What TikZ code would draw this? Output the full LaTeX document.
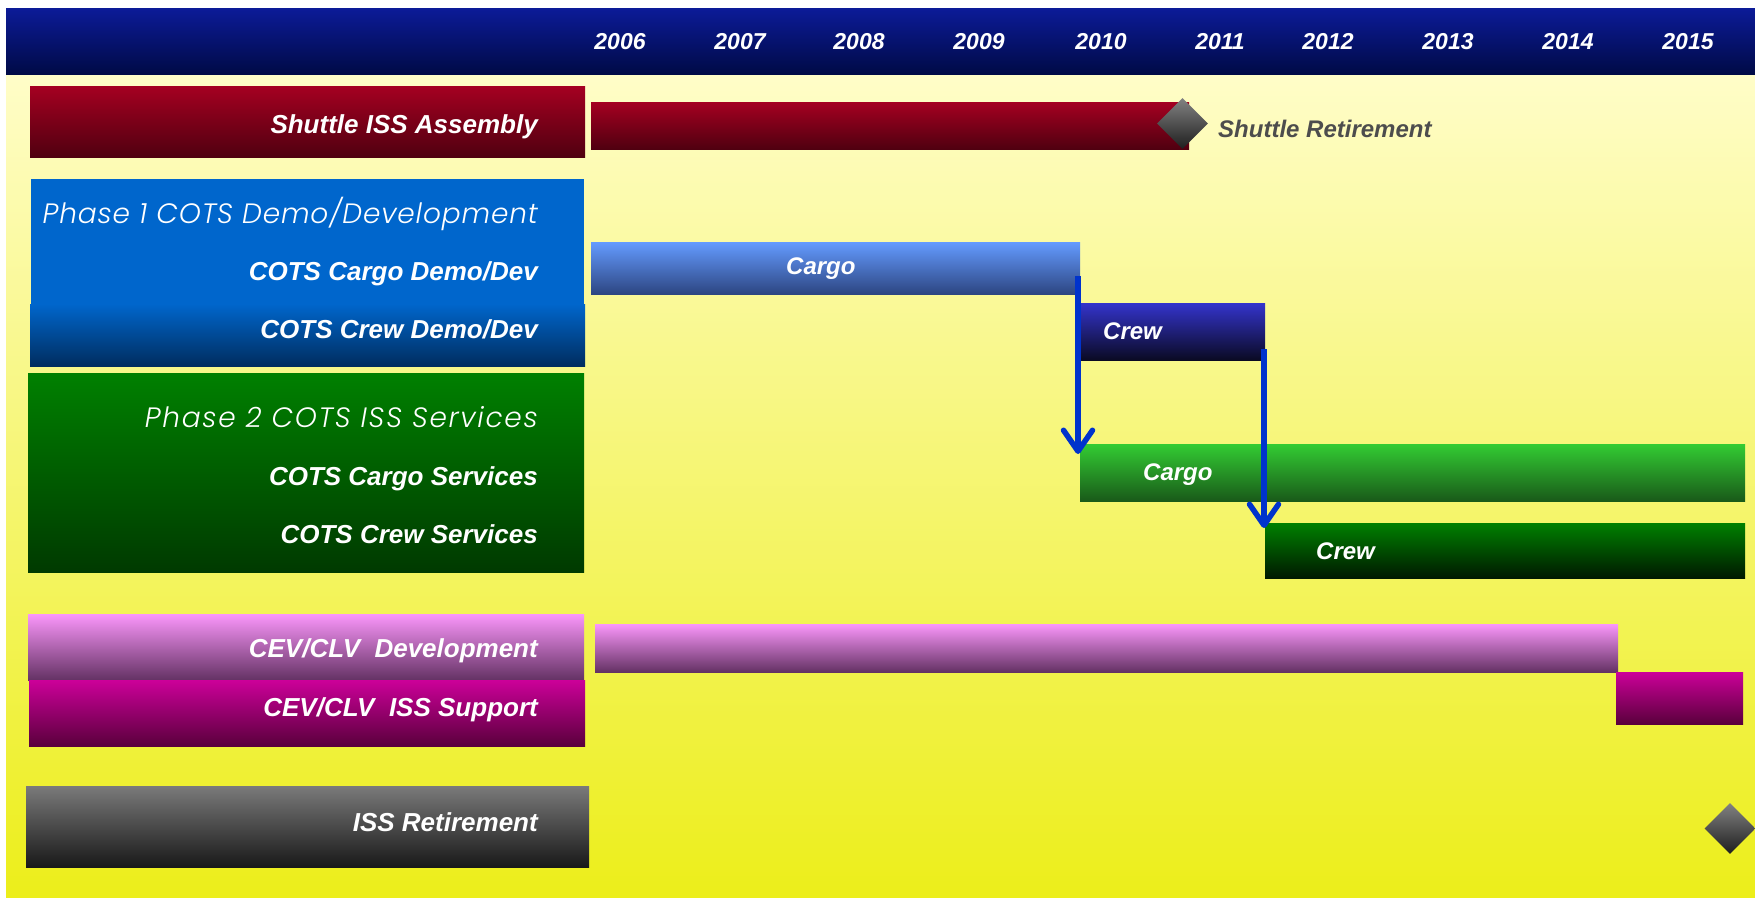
\documentclass[tikz,border=0pt]{standalone}
\usepackage{fontspec}
\setmainfont{Liberation Sans}
\usetikzlibrary{shapes.geometric,arrows.meta}
\IfFontExistsTF{Poppins Light Italic}{\newfontfamily\phasefont{Poppins Light Italic}[LetterSpace=3]\newfontfamily\phasewidefont{Poppins Light Italic}[LetterSpace=6]}{\newfontfamily\phasefont{Liberation Sans Italic}\newfontfamily\phasewidefont{Liberation Sans Italic}}
\definecolor{hdrTop}{RGB}{12,27,152}
\definecolor{hdrBot}{RGB}{0,10,70}
\definecolor{bgTop}{RGB}{255,253,200}
\definecolor{bgBot}{RGB}{236,238,26}
\definecolor{redTop}{RGB}{165,0,33}
\definecolor{redBot}{RGB}{80,0,16}
\definecolor{blueTop}{RGB}{0,102,204}
\definecolor{blueBot}{RGB}{0,45,95}
\definecolor{grnTop}{RGB}{0,128,0}
\definecolor{grnMid}{RGB}{0,105,0}
\definecolor{grnBot}{RGB}{0,58,0}
\definecolor{pinkTop}{RGB}{250,150,250}
\definecolor{pinkBot}{RGB}{100,50,100}
\definecolor{magTop}{RGB}{204,0,153}
\definecolor{magBot}{RGB}{90,0,60}
\definecolor{grayTop}{RGB}{122,122,122}
\definecolor{grayBot}{RGB}{25,25,25}
\definecolor{cbTop}{RGB}{100,155,255}
\definecolor{cbBot}{RGB}{45,70,130}
\definecolor{crTop}{RGB}{52,52,204}
\definecolor{crBot}{RGB}{10,10,35}
\definecolor{lgTop}{RGB}{51,204,51}
\definecolor{lgBot}{RGB}{25,90,25}
\definecolor{dgTop}{RGB}{0,128,0}
\definecolor{dgBot}{RGB}{0,25,0}
\definecolor{arrowBlue}{RGB}{0,51,204}
\definecolor{dmTop}{RGB}{130,130,130}
\definecolor{dmBot}{RGB}{30,30,30}
\definecolor{retText}{RGB}{77,77,77}
\begin{document}
\begin{tikzpicture}[x=1pt,y=-1pt,
  box/.style={rectangle,draw=none,inner sep=0pt,outer sep=0pt,anchor=north west},
  lbl/.style={text=white,inner sep=0pt,anchor=base east,font=\fontsize{26}{30}\selectfont\bfseries\itshape},
  phase/.style={text=white,inner sep=0pt,anchor=base east,font=\fontsize{28}{32}\selectfont\phasefont},
  phasewide/.style={phase,font=\fontsize{28}{32}\selectfont\phasewidefont},
  year/.style={text=white,inner sep=0pt,anchor=center,font=\fontsize{23}{27}\selectfont\bfseries\itshape},
  barlbl/.style={text=white,inner sep=0pt,anchor=base west,font=\fontsize{24}{28}\selectfont\bfseries\itshape},
  milestone/.style={diamond,draw=none,inner sep=0pt,minimum width=51pt,minimum height=51pt,top color=dmTop,bottom color=dmBot},
  flow/.style={draw=arrowBlue,line width=5.5pt,-{Straight Barb[length=21pt,width=29pt,round]}}]
\useasboundingbox (0,0) rectangle (1755,897);
\fill[white] (0,0) rectangle (1755,897);
% background and header
\node[box,top color=bgTop,bottom color=bgBot,minimum width=1749pt,minimum height=823pt] (bg) at (6,74) {};
\node[box,top color=hdrTop,bottom color=hdrBot,minimum width=1749pt,minimum height=66pt] (hdr) at (6,8) {};
% years
\node[year] (y2006) at (620,41.5) {2006};
\node[year] (y2007) at (740,41.5) {2007};
\node[year] (y2008) at (859,41.5) {2008};
\node[year] (y2009) at (979,41.5) {2009};
\node[year] (y2010) at (1101,41.5) {2010};
\node[year] (y2011) at (1220,41.5) {2011};
\node[year] (y2012) at (1328,41.5) {2012};
\node[year] (y2013) at (1448,41.5) {2013};
\node[year] (y2014) at (1568,41.5) {2014};
\node[year] (y2015) at (1688,41.5) {2015};
% left label boxes
\node[box,top color=redTop,bottom color=redBot,minimum width=555pt,minimum height=71pt] (bshuttle) at (30,86) {};
\node[box,fill=blueTop,minimum width=553pt,minimum height=126pt] (bphase1a) at (31,179) {};
\node[box,top color=blueTop,middle color=blueTop,bottom color=blueBot,minimum width=555pt,minimum height=62pt] (bphase1b) at (30,304) {};
\node[box,top color=grnTop,middle color=grnMid,bottom color=grnBot,minimum width=556pt,minimum height=199pt] (bphase2) at (28,373) {};
\node[box,top color=pinkTop,bottom color=pinkBot,minimum width=556pt,minimum height=66pt] (bcevdev) at (28,614) {};
\node[box,top color=magTop,bottom color=magBot,minimum width=556pt,minimum height=66pt] (bcevsup) at (29,680) {};
\node[box,top color=grayTop,bottom color=grayBot,minimum width=563pt,minimum height=81pt] (biss) at (26,786) {};
% left labels
\node[lbl] (tshuttle) at (538,133) {Shuttle ISS Assembly};
\node[phase] (tphase1) at (538,223) {Phase 1 COTS Demo/Development};
\node[lbl] (tcargodev) at (538,280) {COTS Cargo Demo/Dev};
\node[lbl] (tcrewdev) at (538,338) {COTS Crew Demo/Dev};
\node[phasewide] (tphase2) at (538,427.5) {Phase 2 COTS ISS Services};
\node[lbl] (tcargosvc) at (538,485) {COTS Cargo Services};
\node[lbl] (tcrewsvc) at (538,543) {COTS Crew Services};
\node[lbl] (tcevdev) at (538,657) {CEV/CLV\ \ Development};
\node[lbl] (tcevsup) at (538,716) {CEV/CLV\ \ ISS Support};
\node[lbl] (tiss) at (538,831) {ISS Retirement};
% timeline bars
\node[box,top color=redTop,bottom color=redBot,minimum width=598pt,minimum height=47pt] (rshuttle) at (591,102) {};
\node[milestone] (mshuttle) at (1182.5,123.5) {};
\node[barlbl,text=retText] (tshret) at (1218,137) {Shuttle Retirement};
\node[box,top color=cbTop,bottom color=cbBot,minimum width=489pt,minimum height=52pt] (rcargodev) at (591,242) {};
\node[barlbl] (lcargodev) at (786,274.6) {Cargo};
\node[box,top color=crTop,bottom color=crBot,minimum width=185pt,minimum height=57pt] (rcrewdev) at (1080,303) {};
\node[barlbl] (lcrewdev) at (1103,339.6) {Crew};
\node[box,top color=lgTop,bottom color=lgBot,minimum width=665pt,minimum height=57pt] (rcargosvc) at (1080,444) {};
\node[barlbl] (lcargosvc) at (1143,480.6) {Cargo};
\node[box,top color=dgTop,bottom color=dgBot,minimum width=480pt,minimum height=55pt] (rcrewsvc) at (1265,523) {};
\node[barlbl] (lcrewsvc) at (1316,559.6) {Crew};
\node[box,top color=pinkTop,bottom color=pinkBot,minimum width=1023pt,minimum height=48pt] (rcevdev) at (595,624) {};
\node[box,top color=magTop,bottom color=magBot,minimum width=127pt,minimum height=52pt] (rcevsup) at (1616,672) {};
\node[milestone] (miss) at (1730,828.5) {};
% transition arrows
\coordinate (a1s) at (1078,276);
\coordinate (a1e) at (1078,454);
\coordinate (a2s) at (1264,349);
\coordinate (a2e) at (1264,528);
\draw[flow] (a1s) -- (a1e);
\draw[flow] (a2s) -- (a2e);
\end{tikzpicture}
\end{document}
